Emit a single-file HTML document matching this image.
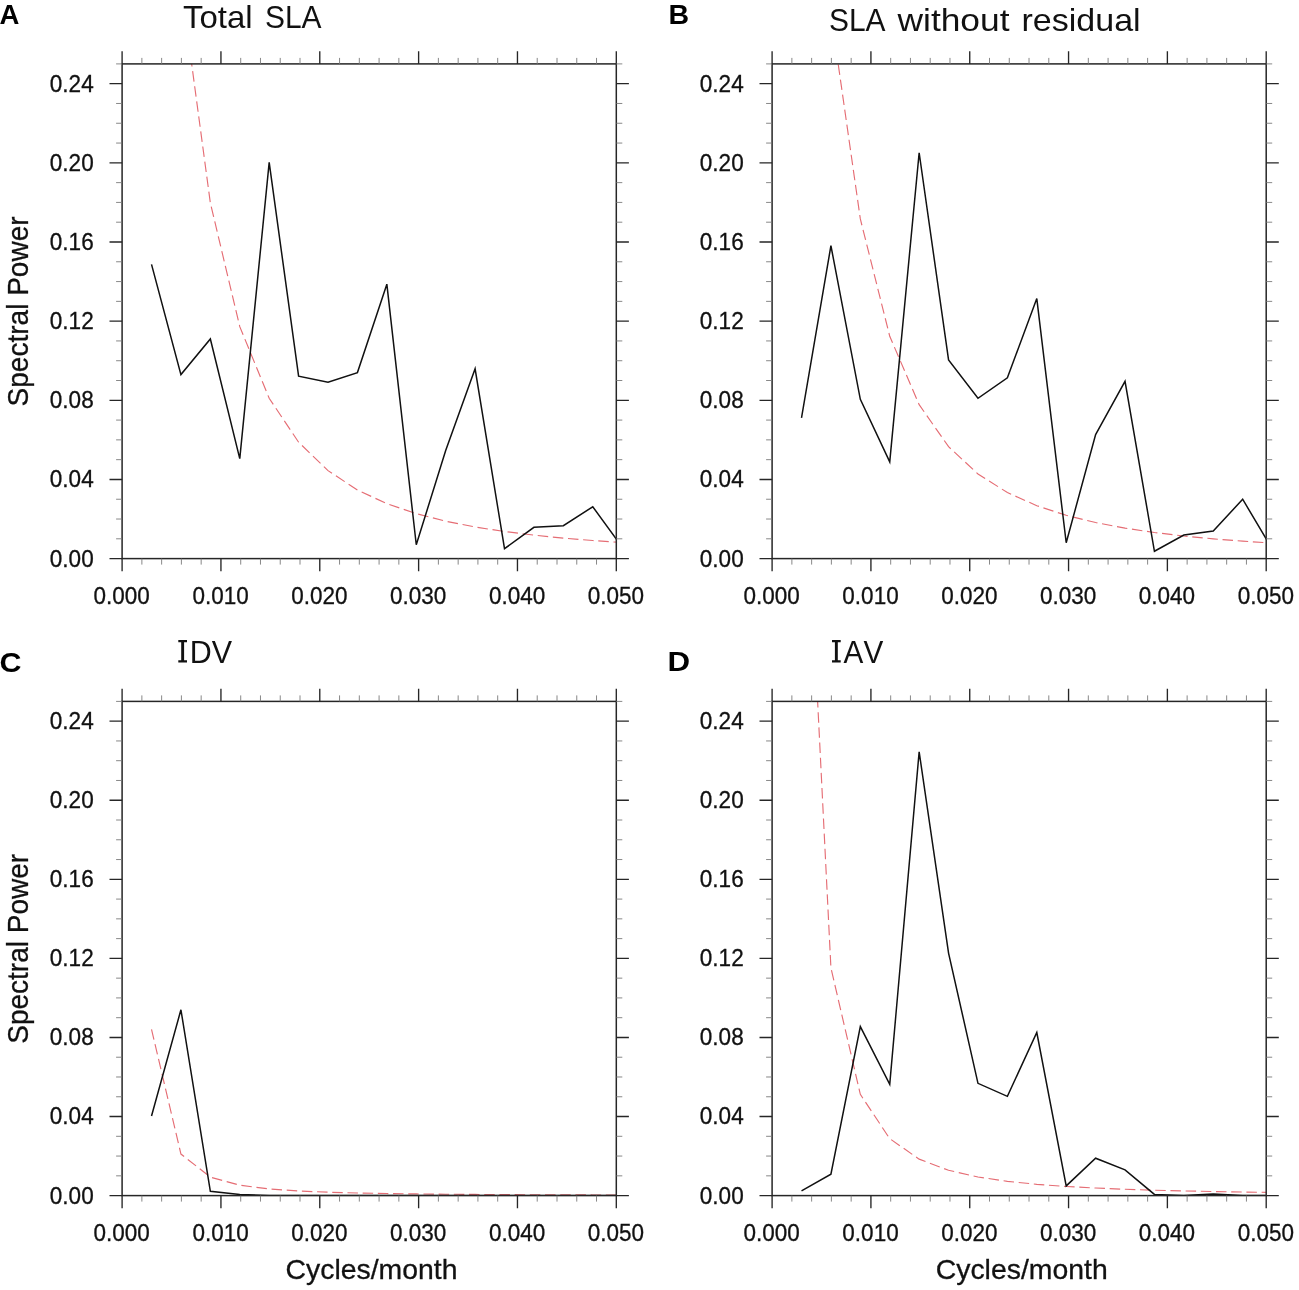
<!DOCTYPE html>
<html><head><meta charset="utf-8"><title>Spectral Power</title>
<style>
html,body{margin:0;padding:0;background:#fff;}
body{width:1299px;height:1290px;overflow:hidden;font-family:"Liberation Sans",sans-serif;}
svg{display:block;will-change:transform;}
text{font-family:"Liberation Sans",sans-serif;fill:#111;}
.tl{font-size:23.2px;stroke:#111;stroke-width:0.3px;}
.pl{font-size:27.5px;font-weight:bold;fill:#000;}
.ti{font-size:31.5px;}
.al{font-size:28px;stroke:#111;stroke-width:0.3px;}
</style></head>
<body>
<svg width="1299" height="1290" viewBox="0 0 1299 1290">
<rect width="1299" height="1290" fill="#fff"/>
<clipPath id="cpa"><rect x="122.10" y="63.90" width="494.20" height="494.70"/></clipPath>
<polyline clip-path="url(#cpa)" points="151.52,-352.36 180.93,-15.90 210.35,202.97 239.77,326.64 269.18,398.29 298.60,442.20 328.02,470.65 357.43,489.99 386.85,503.66 416.27,513.66 445.68,521.18 475.10,526.97 504.52,531.52 533.93,535.15 563.35,538.11 592.77,540.53 622.18,542.55" fill="none" stroke="#e56d74" stroke-width="1.15" stroke-dasharray="10.5 4.7"/>
<polyline clip-path="url(#cpa)" points="151.52,264.35 180.93,374.57 210.35,338.95 239.77,458.67 269.18,162.44 298.60,376.15 328.02,382.29 357.43,372.59 386.85,284.14 416.27,544.75 445.68,450.56 475.10,368.83 504.52,548.71 533.93,527.33 563.35,525.75 592.77,506.76 622.18,547.12" fill="none" stroke="#111" stroke-width="1.5" stroke-linejoin="miter"/>
<rect x="122.10" y="63.90" width="494.20" height="494.70" fill="none" stroke="#262626" stroke-width="1.5"/>
<path d="M122.10 63.90v-12.6M122.10 558.60v12.6M220.94 63.90v-12.6M220.94 558.60v12.6M319.78 63.90v-12.6M319.78 558.60v12.6M418.62 63.90v-12.6M418.62 558.60v12.6M517.46 63.90v-12.6M517.46 558.60v12.6M616.30 63.90v-12.6M616.30 558.60v12.6M122.10 558.60h-12.6M616.30 558.60h12.6M122.10 479.45h-12.6M616.30 479.45h12.6M122.10 400.30h-12.6M616.30 400.30h12.6M122.10 321.14h-12.6M616.30 321.14h12.6M122.10 241.99h-12.6M616.30 241.99h12.6M122.10 162.84h-12.6M616.30 162.84h12.6M122.10 83.69h-12.6M616.30 83.69h12.6" stroke="#262626" stroke-width="1.35" fill="none"/>
<path d="M141.87 63.90v-6.0M141.87 558.60v6.0M161.64 63.90v-6.0M161.64 558.60v6.0M181.40 63.90v-6.0M181.40 558.60v6.0M201.17 63.90v-6.0M201.17 558.60v6.0M240.71 63.90v-6.0M240.71 558.60v6.0M260.48 63.90v-6.0M260.48 558.60v6.0M280.24 63.90v-6.0M280.24 558.60v6.0M300.01 63.90v-6.0M300.01 558.60v6.0M339.55 63.90v-6.0M339.55 558.60v6.0M359.32 63.90v-6.0M359.32 558.60v6.0M379.08 63.90v-6.0M379.08 558.60v6.0M398.85 63.90v-6.0M398.85 558.60v6.0M438.39 63.90v-6.0M438.39 558.60v6.0M458.16 63.90v-6.0M458.16 558.60v6.0M477.92 63.90v-6.0M477.92 558.60v6.0M497.69 63.90v-6.0M497.69 558.60v6.0M537.23 63.90v-6.0M537.23 558.60v6.0M557.00 63.90v-6.0M557.00 558.60v6.0M576.76 63.90v-6.0M576.76 558.60v6.0M596.53 63.90v-6.0M596.53 558.60v6.0M122.10 538.81h-6.0M616.30 538.81h6.0M122.10 519.02h-6.0M616.30 519.02h6.0M122.10 499.24h-6.0M616.30 499.24h6.0M122.10 459.66h-6.0M616.30 459.66h6.0M122.10 439.87h-6.0M616.30 439.87h6.0M122.10 420.08h-6.0M616.30 420.08h6.0M122.10 380.51h-6.0M616.30 380.51h6.0M122.10 360.72h-6.0M616.30 360.72h6.0M122.10 340.93h-6.0M616.30 340.93h6.0M122.10 301.36h-6.0M616.30 301.36h6.0M122.10 281.57h-6.0M616.30 281.57h6.0M122.10 261.78h-6.0M616.30 261.78h6.0M122.10 222.20h-6.0M616.30 222.20h6.0M122.10 202.42h-6.0M616.30 202.42h6.0M122.10 182.63h-6.0M616.30 182.63h6.0M122.10 143.05h-6.0M616.30 143.05h6.0M122.10 123.26h-6.0M616.30 123.26h6.0M122.10 103.48h-6.0M616.30 103.48h6.0M122.10 63.90h-6.0M616.30 63.90h6.0" stroke="#7a7a7a" stroke-width="0.9" fill="none"/>
<text class="tl" x="93.70" y="566.50" text-anchor="end" textLength="43.9" lengthAdjust="spacingAndGlyphs">0.00</text>
<text class="tl" x="93.70" y="487.35" text-anchor="end" textLength="43.9" lengthAdjust="spacingAndGlyphs">0.04</text>
<text class="tl" x="93.70" y="408.20" text-anchor="end" textLength="43.9" lengthAdjust="spacingAndGlyphs">0.08</text>
<text class="tl" x="93.70" y="329.04" text-anchor="end" textLength="43.9" lengthAdjust="spacingAndGlyphs">0.12</text>
<text class="tl" x="93.70" y="249.89" text-anchor="end" textLength="43.9" lengthAdjust="spacingAndGlyphs">0.16</text>
<text class="tl" x="93.70" y="170.74" text-anchor="end" textLength="43.9" lengthAdjust="spacingAndGlyphs">0.20</text>
<text class="tl" x="93.70" y="91.59" text-anchor="end" textLength="43.9" lengthAdjust="spacingAndGlyphs">0.24</text>
<text class="tl" x="121.70" y="604.00" text-anchor="middle" textLength="56.3" lengthAdjust="spacingAndGlyphs">0.000</text>
<text class="tl" x="220.54" y="604.00" text-anchor="middle" textLength="56.3" lengthAdjust="spacingAndGlyphs">0.010</text>
<text class="tl" x="319.38" y="604.00" text-anchor="middle" textLength="56.3" lengthAdjust="spacingAndGlyphs">0.020</text>
<text class="tl" x="418.22" y="604.00" text-anchor="middle" textLength="56.3" lengthAdjust="spacingAndGlyphs">0.030</text>
<text class="tl" x="517.06" y="604.00" text-anchor="middle" textLength="56.3" lengthAdjust="spacingAndGlyphs">0.040</text>
<text class="tl" x="615.90" y="604.00" text-anchor="middle" textLength="56.3" lengthAdjust="spacingAndGlyphs">0.050</text>
<clipPath id="cpb"><rect x="772.10" y="63.90" width="494.10" height="494.70"/></clipPath>
<polyline clip-path="url(#cpb)" points="801.51,-298.39 830.92,13.18 860.33,218.94 889.74,336.31 919.15,404.66 948.56,446.70 977.98,473.98 1007.39,492.55 1036.80,505.70 1066.21,515.31 1095.62,522.55 1125.03,528.12 1154.44,532.50 1183.85,536.00 1213.26,538.84 1242.67,541.18 1272.08,543.13" fill="none" stroke="#e56d74" stroke-width="1.15" stroke-dasharray="10.5 4.7"/>
<polyline clip-path="url(#cpb)" points="801.51,417.91 830.92,245.75 860.33,399.31 889.74,461.84 919.15,152.75 948.56,359.93 977.98,398.32 1007.39,377.74 1036.80,298.59 1066.21,542.77 1095.62,434.53 1125.03,381.30 1154.44,551.28 1183.85,535.05 1213.26,531.09 1242.67,499.24 1272.08,548.90" fill="none" stroke="#111" stroke-width="1.5" stroke-linejoin="miter"/>
<rect x="772.10" y="63.90" width="494.10" height="494.70" fill="none" stroke="#262626" stroke-width="1.5"/>
<path d="M772.10 63.90v-12.6M772.10 558.60v12.6M870.92 63.90v-12.6M870.92 558.60v12.6M969.74 63.90v-12.6M969.74 558.60v12.6M1068.56 63.90v-12.6M1068.56 558.60v12.6M1167.38 63.90v-12.6M1167.38 558.60v12.6M1266.20 63.90v-12.6M1266.20 558.60v12.6M772.10 558.60h-12.6M1266.20 558.60h12.6M772.10 479.45h-12.6M1266.20 479.45h12.6M772.10 400.30h-12.6M1266.20 400.30h12.6M772.10 321.14h-12.6M1266.20 321.14h12.6M772.10 241.99h-12.6M1266.20 241.99h12.6M772.10 162.84h-12.6M1266.20 162.84h12.6M772.10 83.69h-12.6M1266.20 83.69h12.6" stroke="#262626" stroke-width="1.35" fill="none"/>
<path d="M791.86 63.90v-6.0M791.86 558.60v6.0M811.63 63.90v-6.0M811.63 558.60v6.0M831.39 63.90v-6.0M831.39 558.60v6.0M851.16 63.90v-6.0M851.16 558.60v6.0M890.68 63.90v-6.0M890.68 558.60v6.0M910.45 63.90v-6.0M910.45 558.60v6.0M930.21 63.90v-6.0M930.21 558.60v6.0M949.98 63.90v-6.0M949.98 558.60v6.0M989.50 63.90v-6.0M989.50 558.60v6.0M1009.27 63.90v-6.0M1009.27 558.60v6.0M1029.03 63.90v-6.0M1029.03 558.60v6.0M1048.80 63.90v-6.0M1048.80 558.60v6.0M1088.32 63.90v-6.0M1088.32 558.60v6.0M1108.09 63.90v-6.0M1108.09 558.60v6.0M1127.85 63.90v-6.0M1127.85 558.60v6.0M1147.62 63.90v-6.0M1147.62 558.60v6.0M1187.14 63.90v-6.0M1187.14 558.60v6.0M1206.91 63.90v-6.0M1206.91 558.60v6.0M1226.67 63.90v-6.0M1226.67 558.60v6.0M1246.44 63.90v-6.0M1246.44 558.60v6.0M772.10 538.81h-6.0M1266.20 538.81h6.0M772.10 519.02h-6.0M1266.20 519.02h6.0M772.10 499.24h-6.0M1266.20 499.24h6.0M772.10 459.66h-6.0M1266.20 459.66h6.0M772.10 439.87h-6.0M1266.20 439.87h6.0M772.10 420.08h-6.0M1266.20 420.08h6.0M772.10 380.51h-6.0M1266.20 380.51h6.0M772.10 360.72h-6.0M1266.20 360.72h6.0M772.10 340.93h-6.0M1266.20 340.93h6.0M772.10 301.36h-6.0M1266.20 301.36h6.0M772.10 281.57h-6.0M1266.20 281.57h6.0M772.10 261.78h-6.0M1266.20 261.78h6.0M772.10 222.20h-6.0M1266.20 222.20h6.0M772.10 202.42h-6.0M1266.20 202.42h6.0M772.10 182.63h-6.0M1266.20 182.63h6.0M772.10 143.05h-6.0M1266.20 143.05h6.0M772.10 123.26h-6.0M1266.20 123.26h6.0M772.10 103.48h-6.0M1266.20 103.48h6.0M772.10 63.90h-6.0M1266.20 63.90h6.0" stroke="#7a7a7a" stroke-width="0.9" fill="none"/>
<text class="tl" x="743.70" y="566.50" text-anchor="end" textLength="43.9" lengthAdjust="spacingAndGlyphs">0.00</text>
<text class="tl" x="743.70" y="487.35" text-anchor="end" textLength="43.9" lengthAdjust="spacingAndGlyphs">0.04</text>
<text class="tl" x="743.70" y="408.20" text-anchor="end" textLength="43.9" lengthAdjust="spacingAndGlyphs">0.08</text>
<text class="tl" x="743.70" y="329.04" text-anchor="end" textLength="43.9" lengthAdjust="spacingAndGlyphs">0.12</text>
<text class="tl" x="743.70" y="249.89" text-anchor="end" textLength="43.9" lengthAdjust="spacingAndGlyphs">0.16</text>
<text class="tl" x="743.70" y="170.74" text-anchor="end" textLength="43.9" lengthAdjust="spacingAndGlyphs">0.20</text>
<text class="tl" x="743.70" y="91.59" text-anchor="end" textLength="43.9" lengthAdjust="spacingAndGlyphs">0.24</text>
<text class="tl" x="771.70" y="604.00" text-anchor="middle" textLength="56.3" lengthAdjust="spacingAndGlyphs">0.000</text>
<text class="tl" x="870.52" y="604.00" text-anchor="middle" textLength="56.3" lengthAdjust="spacingAndGlyphs">0.010</text>
<text class="tl" x="969.34" y="604.00" text-anchor="middle" textLength="56.3" lengthAdjust="spacingAndGlyphs">0.020</text>
<text class="tl" x="1068.16" y="604.00" text-anchor="middle" textLength="56.3" lengthAdjust="spacingAndGlyphs">0.030</text>
<text class="tl" x="1166.98" y="604.00" text-anchor="middle" textLength="56.3" lengthAdjust="spacingAndGlyphs">0.040</text>
<text class="tl" x="1265.80" y="604.00" text-anchor="middle" textLength="56.3" lengthAdjust="spacingAndGlyphs">0.050</text>
<clipPath id="cpc"><rect x="122.10" y="701.40" width="494.20" height="494.20"/></clipPath>
<polyline clip-path="url(#cpc)" points="151.52,1029.40 180.93,1154.05 210.35,1177.13 239.77,1185.21 269.18,1188.95 298.60,1190.98 328.02,1192.20 357.43,1193.00 386.85,1193.54 416.27,1193.93 445.68,1194.22 475.10,1194.44 504.52,1194.61 533.93,1194.75 563.35,1194.86 592.77,1194.95 622.18,1195.02" fill="none" stroke="#e56d74" stroke-width="1.15" stroke-dasharray="10.5 4.7"/>
<polyline clip-path="url(#cpc)" points="151.52,1115.93 180.93,1009.78 210.35,1191.25 239.77,1194.61 269.18,1195.40 298.60,1195.60 328.02,1195.60 357.43,1195.60 386.85,1195.60 416.27,1195.60 445.68,1195.60 475.10,1195.60 504.52,1195.60 533.93,1195.60 563.35,1195.60 592.77,1195.60 622.18,1195.60" fill="none" stroke="#111" stroke-width="1.5" stroke-linejoin="miter"/>
<rect x="122.10" y="701.40" width="494.20" height="494.20" fill="none" stroke="#262626" stroke-width="1.5"/>
<path d="M122.10 701.40v-12.6M122.10 1195.60v12.6M220.94 701.40v-12.6M220.94 1195.60v12.6M319.78 701.40v-12.6M319.78 1195.60v12.6M418.62 701.40v-12.6M418.62 1195.60v12.6M517.46 701.40v-12.6M517.46 1195.60v12.6M616.30 701.40v-12.6M616.30 1195.60v12.6M122.10 1195.60h-12.6M616.30 1195.60h12.6M122.10 1116.53h-12.6M616.30 1116.53h12.6M122.10 1037.46h-12.6M616.30 1037.46h12.6M122.10 958.38h-12.6M616.30 958.38h12.6M122.10 879.31h-12.6M616.30 879.31h12.6M122.10 800.24h-12.6M616.30 800.24h12.6M122.10 721.17h-12.6M616.30 721.17h12.6" stroke="#262626" stroke-width="1.35" fill="none"/>
<path d="M141.87 701.40v-6.0M141.87 1195.60v6.0M161.64 701.40v-6.0M161.64 1195.60v6.0M181.40 701.40v-6.0M181.40 1195.60v6.0M201.17 701.40v-6.0M201.17 1195.60v6.0M240.71 701.40v-6.0M240.71 1195.60v6.0M260.48 701.40v-6.0M260.48 1195.60v6.0M280.24 701.40v-6.0M280.24 1195.60v6.0M300.01 701.40v-6.0M300.01 1195.60v6.0M339.55 701.40v-6.0M339.55 1195.60v6.0M359.32 701.40v-6.0M359.32 1195.60v6.0M379.08 701.40v-6.0M379.08 1195.60v6.0M398.85 701.40v-6.0M398.85 1195.60v6.0M438.39 701.40v-6.0M438.39 1195.60v6.0M458.16 701.40v-6.0M458.16 1195.60v6.0M477.92 701.40v-6.0M477.92 1195.60v6.0M497.69 701.40v-6.0M497.69 1195.60v6.0M537.23 701.40v-6.0M537.23 1195.60v6.0M557.00 701.40v-6.0M557.00 1195.60v6.0M576.76 701.40v-6.0M576.76 1195.60v6.0M596.53 701.40v-6.0M596.53 1195.60v6.0M122.10 1175.83h-6.0M616.30 1175.83h6.0M122.10 1156.06h-6.0M616.30 1156.06h6.0M122.10 1136.30h-6.0M616.30 1136.30h6.0M122.10 1096.76h-6.0M616.30 1096.76h6.0M122.10 1076.99h-6.0M616.30 1076.99h6.0M122.10 1057.22h-6.0M616.30 1057.22h6.0M122.10 1017.69h-6.0M616.30 1017.69h6.0M122.10 997.92h-6.0M616.30 997.92h6.0M122.10 978.15h-6.0M616.30 978.15h6.0M122.10 938.62h-6.0M616.30 938.62h6.0M122.10 918.85h-6.0M616.30 918.85h6.0M122.10 899.08h-6.0M616.30 899.08h6.0M122.10 859.54h-6.0M616.30 859.54h6.0M122.10 839.78h-6.0M616.30 839.78h6.0M122.10 820.01h-6.0M616.30 820.01h6.0M122.10 780.47h-6.0M616.30 780.47h6.0M122.10 760.70h-6.0M616.30 760.70h6.0M122.10 740.94h-6.0M616.30 740.94h6.0M122.10 701.40h-6.0M616.30 701.40h6.0" stroke="#7a7a7a" stroke-width="0.9" fill="none"/>
<text class="tl" x="93.70" y="1203.50" text-anchor="end" textLength="43.9" lengthAdjust="spacingAndGlyphs">0.00</text>
<text class="tl" x="93.70" y="1124.43" text-anchor="end" textLength="43.9" lengthAdjust="spacingAndGlyphs">0.04</text>
<text class="tl" x="93.70" y="1045.36" text-anchor="end" textLength="43.9" lengthAdjust="spacingAndGlyphs">0.08</text>
<text class="tl" x="93.70" y="966.28" text-anchor="end" textLength="43.9" lengthAdjust="spacingAndGlyphs">0.12</text>
<text class="tl" x="93.70" y="887.21" text-anchor="end" textLength="43.9" lengthAdjust="spacingAndGlyphs">0.16</text>
<text class="tl" x="93.70" y="808.14" text-anchor="end" textLength="43.9" lengthAdjust="spacingAndGlyphs">0.20</text>
<text class="tl" x="93.70" y="729.07" text-anchor="end" textLength="43.9" lengthAdjust="spacingAndGlyphs">0.24</text>
<text class="tl" x="121.70" y="1241.00" text-anchor="middle" textLength="56.3" lengthAdjust="spacingAndGlyphs">0.000</text>
<text class="tl" x="220.54" y="1241.00" text-anchor="middle" textLength="56.3" lengthAdjust="spacingAndGlyphs">0.010</text>
<text class="tl" x="319.38" y="1241.00" text-anchor="middle" textLength="56.3" lengthAdjust="spacingAndGlyphs">0.020</text>
<text class="tl" x="418.22" y="1241.00" text-anchor="middle" textLength="56.3" lengthAdjust="spacingAndGlyphs">0.030</text>
<text class="tl" x="517.06" y="1241.00" text-anchor="middle" textLength="56.3" lengthAdjust="spacingAndGlyphs">0.040</text>
<text class="tl" x="615.90" y="1241.00" text-anchor="middle" textLength="56.3" lengthAdjust="spacingAndGlyphs">0.050</text>
<clipPath id="cpd"><rect x="772.10" y="701.40" width="494.10" height="494.20"/></clipPath>
<polyline clip-path="url(#cpd)" points="801.51,378.19 830.92,967.90 860.33,1094.38 889.74,1138.65 919.15,1159.15 948.56,1170.28 977.98,1176.99 1007.39,1181.34 1036.80,1184.33 1066.21,1186.47 1095.62,1188.05 1125.03,1189.25 1154.44,1190.18 1183.85,1190.93 1213.26,1191.53 1242.67,1192.02 1272.08,1192.42" fill="none" stroke="#e56d74" stroke-width="1.15" stroke-dasharray="10.5 4.7"/>
<polyline clip-path="url(#cpd)" points="801.51,1190.86 830.92,1174.25 860.33,1026.58 889.74,1084.31 919.15,751.81 948.56,953.05 977.98,1083.32 1007.39,1096.36 1036.80,1032.51 1066.21,1185.91 1095.62,1158.24 1125.03,1169.90 1154.44,1194.41 1183.85,1195.40 1213.26,1194.02 1242.67,1195.40 1272.08,1195.60" fill="none" stroke="#111" stroke-width="1.5" stroke-linejoin="miter"/>
<rect x="772.10" y="701.40" width="494.10" height="494.20" fill="none" stroke="#262626" stroke-width="1.5"/>
<path d="M772.10 701.40v-12.6M772.10 1195.60v12.6M870.92 701.40v-12.6M870.92 1195.60v12.6M969.74 701.40v-12.6M969.74 1195.60v12.6M1068.56 701.40v-12.6M1068.56 1195.60v12.6M1167.38 701.40v-12.6M1167.38 1195.60v12.6M1266.20 701.40v-12.6M1266.20 1195.60v12.6M772.10 1195.60h-12.6M1266.20 1195.60h12.6M772.10 1116.53h-12.6M1266.20 1116.53h12.6M772.10 1037.46h-12.6M1266.20 1037.46h12.6M772.10 958.38h-12.6M1266.20 958.38h12.6M772.10 879.31h-12.6M1266.20 879.31h12.6M772.10 800.24h-12.6M1266.20 800.24h12.6M772.10 721.17h-12.6M1266.20 721.17h12.6" stroke="#262626" stroke-width="1.35" fill="none"/>
<path d="M791.86 701.40v-6.0M791.86 1195.60v6.0M811.63 701.40v-6.0M811.63 1195.60v6.0M831.39 701.40v-6.0M831.39 1195.60v6.0M851.16 701.40v-6.0M851.16 1195.60v6.0M890.68 701.40v-6.0M890.68 1195.60v6.0M910.45 701.40v-6.0M910.45 1195.60v6.0M930.21 701.40v-6.0M930.21 1195.60v6.0M949.98 701.40v-6.0M949.98 1195.60v6.0M989.50 701.40v-6.0M989.50 1195.60v6.0M1009.27 701.40v-6.0M1009.27 1195.60v6.0M1029.03 701.40v-6.0M1029.03 1195.60v6.0M1048.80 701.40v-6.0M1048.80 1195.60v6.0M1088.32 701.40v-6.0M1088.32 1195.60v6.0M1108.09 701.40v-6.0M1108.09 1195.60v6.0M1127.85 701.40v-6.0M1127.85 1195.60v6.0M1147.62 701.40v-6.0M1147.62 1195.60v6.0M1187.14 701.40v-6.0M1187.14 1195.60v6.0M1206.91 701.40v-6.0M1206.91 1195.60v6.0M1226.67 701.40v-6.0M1226.67 1195.60v6.0M1246.44 701.40v-6.0M1246.44 1195.60v6.0M772.10 1175.83h-6.0M1266.20 1175.83h6.0M772.10 1156.06h-6.0M1266.20 1156.06h6.0M772.10 1136.30h-6.0M1266.20 1136.30h6.0M772.10 1096.76h-6.0M1266.20 1096.76h6.0M772.10 1076.99h-6.0M1266.20 1076.99h6.0M772.10 1057.22h-6.0M1266.20 1057.22h6.0M772.10 1017.69h-6.0M1266.20 1017.69h6.0M772.10 997.92h-6.0M1266.20 997.92h6.0M772.10 978.15h-6.0M1266.20 978.15h6.0M772.10 938.62h-6.0M1266.20 938.62h6.0M772.10 918.85h-6.0M1266.20 918.85h6.0M772.10 899.08h-6.0M1266.20 899.08h6.0M772.10 859.54h-6.0M1266.20 859.54h6.0M772.10 839.78h-6.0M1266.20 839.78h6.0M772.10 820.01h-6.0M1266.20 820.01h6.0M772.10 780.47h-6.0M1266.20 780.47h6.0M772.10 760.70h-6.0M1266.20 760.70h6.0M772.10 740.94h-6.0M1266.20 740.94h6.0M772.10 701.40h-6.0M1266.20 701.40h6.0" stroke="#7a7a7a" stroke-width="0.9" fill="none"/>
<text class="tl" x="743.70" y="1203.50" text-anchor="end" textLength="43.9" lengthAdjust="spacingAndGlyphs">0.00</text>
<text class="tl" x="743.70" y="1124.43" text-anchor="end" textLength="43.9" lengthAdjust="spacingAndGlyphs">0.04</text>
<text class="tl" x="743.70" y="1045.36" text-anchor="end" textLength="43.9" lengthAdjust="spacingAndGlyphs">0.08</text>
<text class="tl" x="743.70" y="966.28" text-anchor="end" textLength="43.9" lengthAdjust="spacingAndGlyphs">0.12</text>
<text class="tl" x="743.70" y="887.21" text-anchor="end" textLength="43.9" lengthAdjust="spacingAndGlyphs">0.16</text>
<text class="tl" x="743.70" y="808.14" text-anchor="end" textLength="43.9" lengthAdjust="spacingAndGlyphs">0.20</text>
<text class="tl" x="743.70" y="729.07" text-anchor="end" textLength="43.9" lengthAdjust="spacingAndGlyphs">0.24</text>
<text class="tl" x="771.70" y="1241.00" text-anchor="middle" textLength="56.3" lengthAdjust="spacingAndGlyphs">0.000</text>
<text class="tl" x="870.52" y="1241.00" text-anchor="middle" textLength="56.3" lengthAdjust="spacingAndGlyphs">0.010</text>
<text class="tl" x="969.34" y="1241.00" text-anchor="middle" textLength="56.3" lengthAdjust="spacingAndGlyphs">0.020</text>
<text class="tl" x="1068.16" y="1241.00" text-anchor="middle" textLength="56.3" lengthAdjust="spacingAndGlyphs">0.030</text>
<text class="tl" x="1166.98" y="1241.00" text-anchor="middle" textLength="56.3" lengthAdjust="spacingAndGlyphs">0.040</text>
<text class="tl" x="1265.80" y="1241.00" text-anchor="middle" textLength="56.3" lengthAdjust="spacingAndGlyphs">0.050</text>
<text class="pl" x="-0.5" y="24.3">A</text>
<text class="pl" x="668.4" y="24.3" textLength="20.6" lengthAdjust="spacingAndGlyphs">B</text>
<text class="pl" x="-0.6" y="671.5" textLength="22" lengthAdjust="spacingAndGlyphs">C</text>
<text class="pl" x="667.4" y="671.4" textLength="22.6" lengthAdjust="spacingAndGlyphs">D</text>
<text class="ti" x="183.00" y="28.2" textLength="69.60" lengthAdjust="spacingAndGlyphs">Total</text>
<text class="ti" x="265.00" y="28.2" textLength="56.57" lengthAdjust="spacingAndGlyphs">SLA</text>
<text class="ti" x="829.00" y="31.0" textLength="56.57" lengthAdjust="spacingAndGlyphs">SLA</text>
<text class="ti" x="897.50" y="31.0" textLength="112.01" lengthAdjust="spacingAndGlyphs">without</text>
<text class="ti" x="1021.50" y="31.0" textLength="119.11" lengthAdjust="spacingAndGlyphs">residual</text>
<path fill="#111" d="M178.30 639.90h8.7v2.4h-2.90V660.20h2.90v2.4h-8.7v-2.4h2.90V642.30h-2.90z"/>
<text class="ti" x="189.7" y="662.7" textLength="42.3" lengthAdjust="spacingAndGlyphs" style="font-kerning:none">DV</text>
<path fill="#111" d="M832.00 639.90h8.7v2.4h-2.90V660.20h2.90v2.4h-8.7v-2.4h2.90V642.30h-2.90z"/>
<text class="ti" x="843.6" y="662.7" textLength="39.6" lengthAdjust="spacingAndGlyphs" style="font-kerning:none">AV</text>
<text class="al" transform="translate(27.9 311.4) rotate(-90)" text-anchor="middle" textLength="190" lengthAdjust="spacingAndGlyphs" style="font-size:30px">Spectral Power</text>
<text class="al" transform="translate(27.9 948.8) rotate(-90)" text-anchor="middle" textLength="190" lengthAdjust="spacingAndGlyphs" style="font-size:30px">Spectral Power</text>
<text class="al" x="371.5" y="1279.2" text-anchor="middle" textLength="172" lengthAdjust="spacingAndGlyphs">Cycles/month</text>
<text class="al" x="1021.7" y="1279.2" text-anchor="middle" textLength="172" lengthAdjust="spacingAndGlyphs">Cycles/month</text>
</svg>
</body></html>
